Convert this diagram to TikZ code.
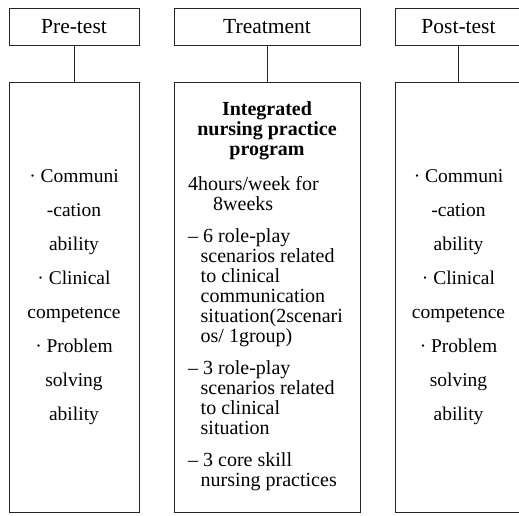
\documentclass[tikz,border=0pt]{standalone}
\usepackage{fontspec}
\setmainfont{Liberation Serif}
\newcommand{\hang}[1]{\hspace*{#1}}
\begin{document}
\begin{tikzpicture}[x=1pt,y=-1pt,
  box/.style={draw=black!85,line width=0.8pt,inner sep=0pt},
  head/.style={box,minimum height=37pt,font=\fontsize{21.5}{22}\selectfont},
  outcome/.style={box,minimum height=430pt,align=center,font=\fontsize{19.5}{34}\selectfont}]
\useasboundingbox (0,0) rectangle (519,515);
% Headings
\node[head,minimum width=130pt] (pretest) at (74,26.5) {Pre-test};
\node[head,minimum width=186pt] (treat) at (267,26.5) {Treatment};
\node[head,minimum width=127pt] (posttest) at (458.5,26.5) {Post-test};
% Pre-test / post-test measures
\node[outcome,minimum width=130pt] (preBox) at (74,297) {%
  {\textperiodcentered} Communi\\-cation\\ability\\{\textperiodcentered} Clinical\\competence\\{\textperiodcentered} Problem\\solving\\ability};
\node[outcome,minimum width=127pt] (postBox) at (458.5,297) {%
  {\textperiodcentered} Communi\\-cation\\ability\\{\textperiodcentered} Clinical\\competence\\{\textperiodcentered} Problem\\solving\\ability};
% Treatment program
\node[box,minimum width=186pt,minimum height=430pt] (treatBox) at (267,297) {};
\node[inner sep=0pt,anchor=north,align=center,font=\fontsize{20}{20}\selectfont\bfseries] (title) at (267,101.5) {Integrated\\nursing practice\\program};
\node[inner sep=0pt,anchor=north west,align=left,font=\fontsize{20}{20}\selectfont] (plan) at (188,176) {%
  4hours/week for\\ \hang{25pt}8weeks\\[12pt]
  – 6 role-play\\ \hang{12.5pt}scenarios related\\ \hang{12.5pt}to clinical\\ \hang{12.5pt}communication\\ \hang{12.5pt}situation(2scenari\\ \hang{12.5pt}os/ 1group)\\[12pt]
  – 3 role-play\\ \hang{12.5pt}scenarios related\\ \hang{12.5pt}to clinical\\ \hang{12.5pt}situation\\[12pt]
  – 3 core skill\\ \hang{12.5pt}nursing practices};
% Connectors
\draw[black!85,line width=0.8pt] (pretest) -- (preBox);
\draw[black!85,line width=0.8pt] (treat) -- (treatBox);
\draw[black!85,line width=0.8pt] (posttest) -- (postBox);
\end{tikzpicture}
\end{document}
